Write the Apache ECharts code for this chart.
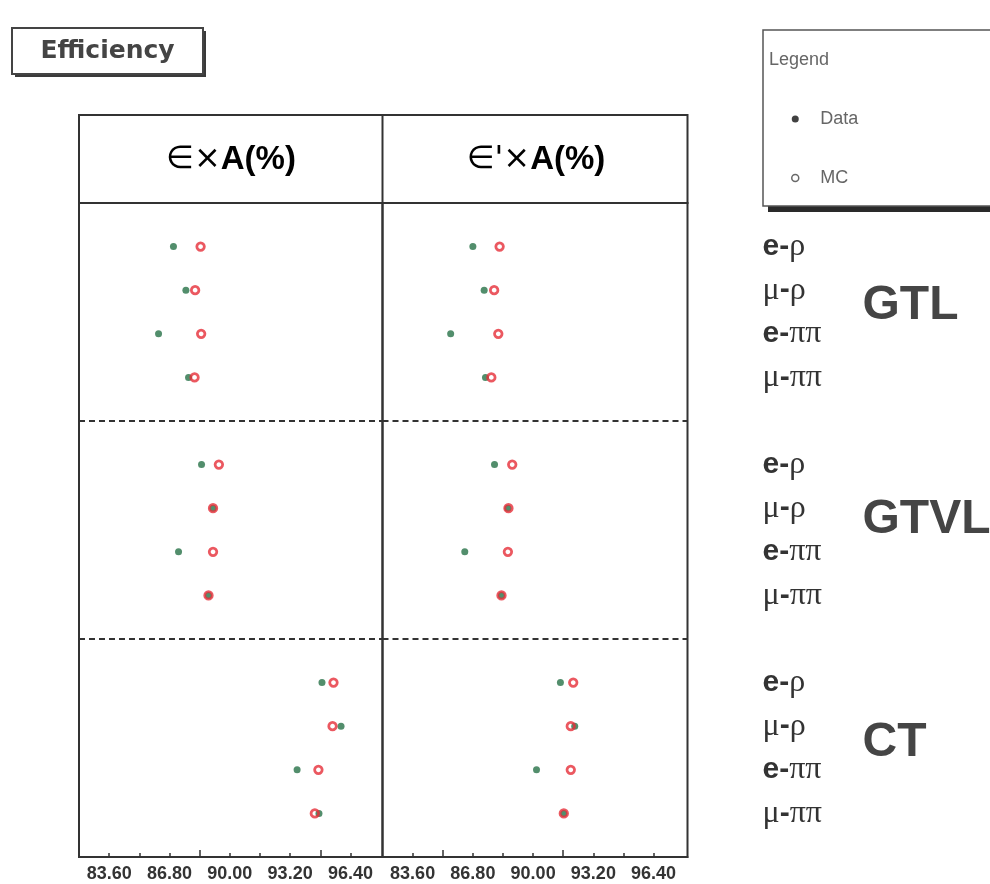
<!DOCTYPE html>
<html>
<head>
<meta charset="utf-8">
<title>Efficiency</title>
<script src="https://cdn.jsdelivr.net/npm/echarts@6.0.0/dist/echarts.min.js"></script>
<style>
  html, body { margin: 0; padding: 0; background: #ffffff; }
  #chart { width: 990px; height: 884px; }
</style>
</head>
<body>
<div id="chart"></div>
<script>
// Decay channels inside each selection group, listed top to bottom
const channels = ['e-ρ', 'μ-ρ', 'e-ππ', 'μ-ππ'];
const groups = ['GTL', 'GTVL', 'CT'];

// ε×A (%) : GTL, GTVL, CT, channel order as above
const effData = [87.01, 87.67, 86.22, 87.81, 88.50, 89.11, 87.28, 88.87, 94.89, 95.90, 93.57, 94.73];
const effMC   = [88.45, 88.16, 88.48, 88.13, 89.42, 89.11, 89.11, 88.87, 95.50, 95.45, 94.70, 94.51];

// ε'×A (%)
const effPrimeData = [86.80, 87.40, 85.62, 87.47, 87.95, 88.66, 86.37, 88.32, 91.45, 92.21, 90.18, 91.63];
const effPrimeMC   = [88.22, 87.93, 88.15, 87.78, 88.89, 88.69, 88.66, 88.32, 92.13, 92.00, 92.00, 91.63];

// x-axis tick labels and tick marks
const xTickLabels = [83.6, 86.8, 90.0, 93.2, 96.4];
const minorTickValues = [83.6, 85.2, 86.8, 88.4, 90.0, 91.6, 93.2, 94.8, 96.4];
const majorTicksLeft = [88.4, 94.8];
const majorTicksRight = [85.2, 91.6];

// Category rows: a blank spacer before, between and after the groups
const rows = [''];
groups.forEach(() => { rows.push(...channels, ''); });
const rowOf = (i) => Math.floor(i / channels.length) * (channels.length + 1) + (i % channels.length) + 1;
const toPoints = (arr) => arr.map((v, i) => [v, rowOf(i)]);

const FRAME = '#333333';
const DATA_COLOR = '#277247';
const MC_COLOR = '#e62e38';

const chart = echarts.init(document.getElementById('chart'), null, { renderer: 'canvas' });

const gridStyle = {
  show: true, borderColor: FRAME, borderWidth: 2, backgroundColor: 'transparent',
  outerBoundsMode: 'none', containLabel: false
};

function bottomAxis(gridIndex, max, ticks, tickLen, withLabels) {
  return {
    type: 'value', gridIndex, position: 'bottom', min: 82.0, max,
    axisLine: { show: withLabels, onZero: false, lineStyle: { color: FRAME, width: 2 } },
    axisTick: { show: true, inside: true, length: tickLen, customValues: ticks,
                lineStyle: { color: FRAME, width: 1.5 } },
    axisLabel: withLabels ? {
      show: true, customValues: xTickLabels, margin: 8,
      formatter: (v) => v.toFixed(2),
      color: '#333', fontSize: 18, fontWeight: 'bold', fontFamily: 'Liberation Sans, Arial, sans-serif'
    } : { show: false },
    splitLine: { show: false }
  };
}

function rowAxis(gridIndex, withLabels) {
  return {
    type: 'category', gridIndex, data: rows, inverse: true, boundaryGap: false,
    position: withLabels ? 'right' : 'left',
    axisLine: { show: false, onZero: false }, axisTick: { show: false },
    axisLabel: withLabels ? {
      show: true, interval: 0, margin: 75, align: 'left',
      formatter: (name) => {
        let out = '';
        for (const ch of name) {
          out += /[A-Za-z\-]/.test(ch) ? '{b|' + ch + '}' : '{g|' + ch + '}';
        }
        return out;
      },
      rich: {
        b: { fontSize: 30, fontWeight: 'bold', color: '#333', fontFamily: 'Liberation Sans, Arial, sans-serif' },
        g: { fontSize: 32, color: '#333', fontFamily: 'Liberation Serif, Times New Roman, serif' }
      }
    } : { show: false },
    splitLine: {
      show: true,
      interval: (idx) => rows[idx] === '' && idx > 0 && idx < rows.length - 1,
      lineStyle: { color: FRAME, width: 2, type: [6, 4] }
    }
  };
}

// Group names placed beside their four channels
const GROUP_LABEL_ROWS = [2.36, 7.27, 12.37];

const option = {
  backgroundColor: '#ffffff',
  animation: false,
  grid: [
    Object.assign({ left: 79, top: 203, width: 303.5, height: 654 }, gridStyle),
    Object.assign({ left: 382.5, top: 203, width: 305, height: 654 }, gridStyle)
  ],
  xAxis: [
    bottomAxis(0, 98.1, minorTickValues, 4, true),
    bottomAxis(0, 98.1, majorTicksLeft, 7, false),
    bottomAxis(1, 98.2, minorTickValues, 4, true),
    bottomAxis(1, 98.2, majorTicksRight, 7, false)
  ],
  yAxis: [
    rowAxis(0, false),
    rowAxis(1, true),
    {
      type: 'value', gridIndex: 1, position: 'right', min: 0, max: rows.length - 1, inverse: true,
      axisLine: { show: false, onZero: false }, axisTick: { show: false }, splitLine: { show: false },
      axisLabel: {
        show: true, customValues: GROUP_LABEL_ROWS, margin: 175, align: 'left',
        formatter: (v) => groups[GROUP_LABEL_ROWS.indexOf(v)],
        fontSize: 48, fontWeight: 'bold', color: '#454545',
        fontFamily: 'Liberation Sans, Arial, sans-serif'
      }
    }
  ],
  legend: {
    orient: 'vertical', left: 791, top: 110, padding: 0, itemGap: 41,
    itemWidth: 40, itemHeight: 7,
    textStyle: { color: '#666', fontSize: 18, fontFamily: 'Liberation Sans, Arial, sans-serif' },
    data: [
      { name: 'Data', icon: 'circle', itemStyle: { color: '#111', borderWidth: 0 } },
      { name: 'MC', icon: 'circle', itemStyle: { color: '#fff', borderColor: '#444', borderWidth: 1.5 } }
    ]
  },
  series: [
    { name: 'Data', type: 'scatter', xAxisIndex: 0, yAxisIndex: 0, data: toPoints(effData),
      symbol: 'circle', symbolSize: 7, itemStyle: { color: DATA_COLOR }, z: 2 },
    { name: 'MC', type: 'scatter', xAxisIndex: 0, yAxisIndex: 0, data: toPoints(effMC),
      symbol: 'circle', symbolSize: 7.5,
      itemStyle: { color: 'rgba(255,255,255,0)', borderColor: MC_COLOR, borderWidth: 2.8 }, z: 3 },
    { name: 'Data', type: 'scatter', xAxisIndex: 2, yAxisIndex: 1, data: toPoints(effPrimeData),
      symbol: 'circle', symbolSize: 7, itemStyle: { color: DATA_COLOR }, z: 2 },
    { name: 'MC', type: 'scatter', xAxisIndex: 2, yAxisIndex: 1, data: toPoints(effPrimeMC),
      symbol: 'circle', symbolSize: 7.5,
      itemStyle: { color: 'rgba(255,255,255,0)', borderColor: MC_COLOR, borderWidth: 2.8 }, z: 3 }
  ],
  graphic: [
    // "Efficiency" tag with drop shadow
    { type: 'rect', shape: { x: 15, y: 31, width: 191, height: 46 }, style: { fill: '#3a3a3a' }, z: 10 },
    { type: 'rect', shape: { x: 12, y: 28, width: 191, height: 46 },
      style: { fill: '#fff', stroke: '#444', lineWidth: 2 }, z: 11 },
    { type: 'text', x: 107.5, y: 51, z: 12,
      style: { text: 'Efficiency', fill: '#444', fontSize: 25, fontWeight: 'bold',
               fontFamily: 'DejaVu Sans, sans-serif', align: 'center', verticalAlign: 'middle' } },

    // Column header band
    { type: 'rect', shape: { x: 79, y: 115, width: 608.5, height: 88 },
      style: { fill: 'none', stroke: FRAME, lineWidth: 2 }, z: 10 },
    { type: 'line', shape: { x1: 382.5, y1: 115, x2: 382.5, y2: 203 },
      style: { stroke: FRAME, lineWidth: 2 }, z: 10 },
    { type: 'text', x: 231, y: 160, z: 11,
      style: { text: '{s|∈×}{b|A(%)}', align: 'center', verticalAlign: 'middle',
               rich: {
                 s: { fontSize: 32, color: '#555', fontFamily: 'DejaVu Sans, sans-serif' },
                 b: { fontSize: 33, fontWeight: 'bold', color: '#333', fontFamily: 'Liberation Sans, Arial, sans-serif' }
               } } },
    { type: 'text', x: 536, y: 160, z: 11,
      style: { text: "{s|∈'×}{b|A(%)}", align: 'center', verticalAlign: 'middle',
               rich: {
                 s: { fontSize: 32, color: '#555', fontFamily: 'DejaVu Sans, sans-serif' },
                 b: { fontSize: 33, fontWeight: 'bold', color: '#333', fontFamily: 'Liberation Sans, Arial, sans-serif' }
               } } },

    // Legend frame
    { type: 'rect', shape: { x: 768, y: 35, width: 240, height: 177 }, style: { fill: '#2a2a2a' }, z: 0 },
    { type: 'rect', shape: { x: 763, y: 30, width: 240, height: 176 },
      style: { fill: '#fff', stroke: '#555', lineWidth: 1.5 }, z: 0 },
    { type: 'text', x: 769, y: 60, z: 1,
      style: { text: 'Legend', fill: '#666', fontSize: 18, fontFamily: 'Liberation Sans, Arial, sans-serif',
               verticalAlign: 'middle' } }
  ]
};

chart.setOption(option);
</script>
</body>
</html>
